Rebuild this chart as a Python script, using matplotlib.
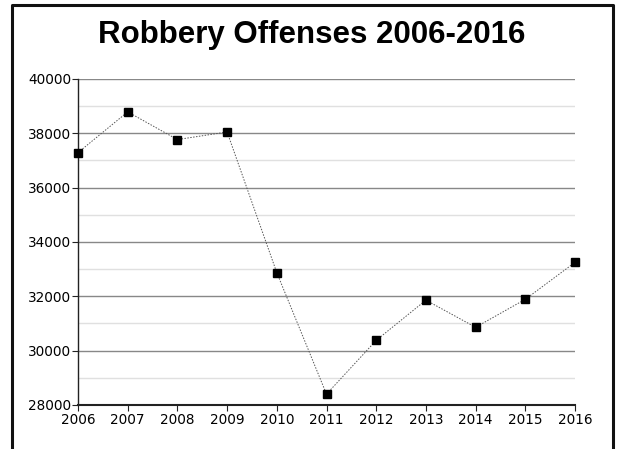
import matplotlib.pyplot as plt
from matplotlib.lines import Line2D
from matplotlib.ticker import MultipleLocator

years = [2006, 2007, 2008, 2009, 2010, 2011, 2012, 2013, 2014, 2015, 2016]
offenses = [37290, 38790, 37770, 38050, 32870, 28400, 30380, 31860, 30860, 31890, 33250]

fig = plt.figure(figsize=(6.18, 4.49), dpi=100)
ax = fig.add_axes([78 / 618, 1 - 405 / 449, (575 - 78) / 618, (405 - 79) / 449])

# dotted connecting line with square markers
ax.plot(years, offenses, linestyle=(0, (1.5, 1.5)), color='#555555', linewidth=0.7, zorder=3)
ax.plot(years, offenses, linestyle='none', marker='s', markersize=6, color='black',
        zorder=4, clip_on=False)

ax.set_xlim(2006, 2016)
ax.set_ylim(28000, 40000)
ax.set_xticks(years)
ax.yaxis.set_major_locator(MultipleLocator(2000))
ax.yaxis.set_minor_locator(MultipleLocator(1000))

ax.grid(which='major', axis='y', color='#888888', linewidth=1.0)
ax.grid(which='minor', axis='y', color='#e0e0e0', linewidth=1.0)
ax.set_axisbelow(True)

for side in ['top', 'right']:
    ax.spines[side].set_visible(False)
ax.spines['left'].set_color('#222222')
ax.spines['bottom'].set_color('#222222')
ax.spines['left'].set_linewidth(1.0)
ax.spines['bottom'].set_linewidth(1.5)

ax.tick_params(axis='both', which='major', labelsize=9.8, length=4, width=0.8, color='#222222', pad=1)
ax.tick_params(axis='y', which='minor', length=0)
ax.tick_params(axis='x', pad=2)

fig.text(0.505, 1 - 35 / 449, 'Robbery Offenses 2006-2016', ha='center', va='center',
         fontsize=22.5, fontweight='bold', family='Liberation Sans', color='black')

# black frame around the chart (open at the bottom)
fx0, fx1, fy1 = 12 / 618, 613 / 618, 1 - 5 / 449
fig.add_artist(Line2D([fx0, fx0, fx1, fx1], [0, fy1, fy1, 0], color='#111111', linewidth=2.2,
                      transform=fig.transFigure))

plt.savefig('out.png', dpi=100)
